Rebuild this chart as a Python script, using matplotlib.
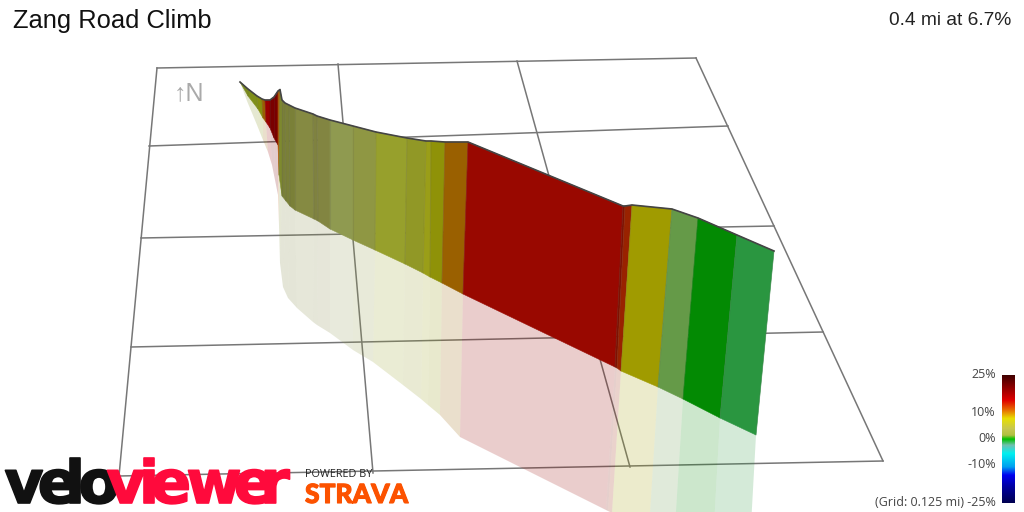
import numpy as np
import matplotlib
matplotlib.use('Agg')
import matplotlib.pyplot as plt
import matplotlib.patheffects as pe
from matplotlib.colors import LinearSegmentedColormap

# wall stations along the climb (screen px)
top_x = [240,248,257,262,265,270,274,278,280,282,285,289,295,313,317,330,353,376,407,426,431,445,468,623,625,632,672,698,737,774]
top_y = [82,89,96,99,100,100,97,91,89.5,100,103,105,108,114,116,120,126,132,138,141,141,142,142,206,206,205,209,218,235,251]
base_x = [240,248,258,263,266,270,274,278,279,282,286,290,295,314,318,330,353,375,405,423,430,442,463,615,617,621,658,683,720,756]
base_y = [82,96,109,118,122,128,138,145,175,196,201,206,210,219,221,229,240,250,264,273,277,283,294,367,368,371,387,399,418,435]
floor_x = [240,247,257,263,268,272,275,278,279,280,283,288,297,313,317,330,353,373,403,421,428,440,460,606,608,612,649,674,712,748]
floor_y = [82,101,125,140,152,165,180,195,225,263,287,298,308,322,325,333,350,362,385,399,405,415,437,510,511,513,530,543,562,580]
seg_colors = ['#7a8a1f','#7f8f1a','#85900f','#9a5f00','#990000','#7a0000','#7a0000','#b05a00','#7e8a2e',
              '#7a8038','#7a8038','#7a8038','#858a42','#7f8240','#828541','#8f9a50','#8f9743','#97a02c',
              '#919826','#9a9e18','#8f9208','#9a6000','#990800','#801000','#992200',
              '#a09b00','#659a48','#038a03','#2a9640']

# ground grid
grid_start_x = [157,149,141,131,119,157,338,517,696]
grid_start_y = [68,146,238,347,476,68,64,61,58]
grid_end_x = [696,728,774,823,883,119,373,630,883]
grid_end_y = [58,126,226,332,461,476,473,467,461]

# gradient scale
scale_labels = ['25%','10%','0%','-10%','(Grid: 0.125 mi) -25%']
scale_label_y = [375,413,439,464,502]
scale_colors = ['#400000','#a00000','#e00000','#e87000','#e8e000','#c8c850','#b0c040','#00c000',
                '#70c0b0','#00f0f0','#00a0f0','#0000f0','#0000a0','#000050']
scale_stops = [0,0.117,0.195,0.274,0.339,0.418,0.47,0.501,0.548,0.614,0.718,0.783,0.875,1]

velo_letters = ['v','e','l','o']
velo_x = [24,58,75,99]
viewer_letters = ['v','i','e','w','e','r']
viewer_x = [126,149,171,214,254,275]

fig = plt.figure(figsize=(10.24,5.12),dpi=100)
ax = fig.add_axes([0,0,1,1])
ax.set_xlim(0,1024)
ax.set_ylim(512,0)
ax.axis('off')

for x0,y0,x1,y1 in zip(grid_start_x,grid_start_y,grid_end_x,grid_end_y):
    ax.plot([x0,x1],[y0,y1],color='#777777',lw=1.1,zorder=1)

for i,c in enumerate(seg_colors):
    # shadow curtain under the wall
    ax.fill([base_x[i],base_x[i+1],floor_x[i+1],floor_x[i]],
            [base_y[i],base_y[i+1],floor_y[i+1],floor_y[i]],
            color=c,alpha=0.2,lw=0,zorder=2)
    ax.fill([top_x[i],top_x[i+1],base_x[i+1],base_x[i]],
            [top_y[i],top_y[i+1],base_y[i+1],base_y[i]],
            color=c,lw=0.4,ec=c,zorder=3)
    ax.plot([top_x[i+1],base_x[i+1]],[top_y[i+1],base_y[i+1]],color='#555555',alpha=0.15,lw=0.8,zorder=4)
ax.plot(top_x,top_y,color='#444444',lw=1.2,zorder=5)

ax.text(13,28,'Zang Road Climb',fontsize=18.4,family='Liberation Sans',color='#111111',zorder=6)
ax.text(1011,25,'0.4 mi at 6.7%',fontsize=13.8,family='Liberation Sans',color='#222222',ha='right',zorder=6)
ax.text(174,100,'↑N',fontsize=18,family=['Liberation Sans','DejaVu Sans'],color='#aaaaaa',zorder=6)

cmap = LinearSegmentedColormap.from_list('grad',list(zip(scale_stops,scale_colors)))
ax.imshow(np.linspace(0,1,256).reshape(-1,1),cmap=cmap,extent=[1002,1015,503,375],aspect='auto',zorder=6)
ax.set_xlim(0,1024)
ax.set_ylim(512,0)
for lab,y in zip(scale_labels,scale_label_y):
    ax.text(996,y,lab,fontsize=9,family='Open Sans',color='#444444',ha='right',va='center',zorder=6)

# logo letters are placed one by one, they overlap in the original
for ch,x in zip(velo_letters,velo_x):
    ax.text(x,503,ch,fontsize=43,family='DejaVu Sans',weight='bold',color='#111111',ha='center',zorder=7,
            path_effects=[pe.withStroke(linewidth=1.2,foreground='#111111')])
for ch,x in zip(viewer_letters,viewer_x):
    ax.text(x,503,ch,fontsize=43,family='DejaVu Sans',weight='bold',color='#ff0a3c',ha='center',zorder=7,
            path_effects=[pe.withStroke(linewidth=1.2,foreground='#ff0a3c')])
ax.text(305,477,'POWERED BY',fontsize=7.8,family='Open Sans',color='#222222',zorder=7)
ax.text(305,503,'STRAVA',fontsize=19,family='Lato',weight='black',color='#fc5200',zorder=7,
        path_effects=[pe.withStroke(linewidth=0.8,foreground='#fc5200')])

fig.savefig('out.png',dpi=100)
